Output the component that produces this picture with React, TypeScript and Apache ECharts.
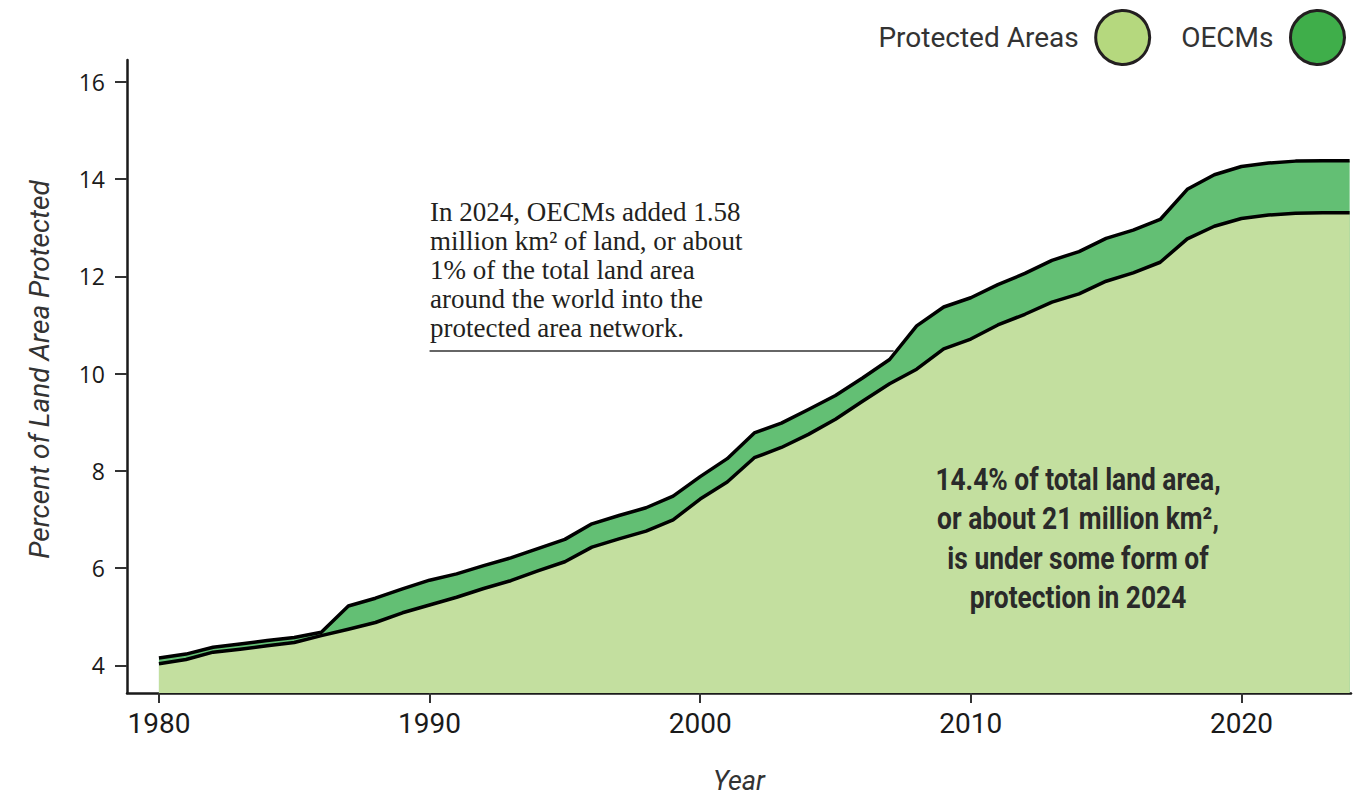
import React, { useEffect, useRef } from "react";
import * as echarts from "echarts";

const years = [
  1980, 1981, 1982, 1983, 1984, 1985, 1986, 1987, 1988, 1989,
  1990, 1991, 1992, 1993, 1994, 1995, 1996, 1997, 1998, 1999,
  2000, 2001, 2002, 2003, 2004, 2005, 2006, 2007, 2008, 2009,
  2010, 2011, 2012, 2013, 2014, 2015, 2016, 2017, 2018, 2019,
  2020, 2021, 2022, 2023, 2024,
];

// Percent of land area covered by Protected Areas
const protectedAreas = [
  4.03, 4.12, 4.27, 4.33, 4.4, 4.47, 4.61, 4.74, 4.88, 5.08,
  5.24, 5.4, 5.58, 5.74, 5.94, 6.13, 6.43, 6.6, 6.76, 6.99,
  7.42, 7.77, 8.27, 8.48, 8.75, 9.06, 9.43, 9.79, 10.09, 10.51,
  10.71, 11.0, 11.22, 11.47, 11.64, 11.9, 12.07, 12.29, 12.77, 13.03,
  13.19, 13.26, 13.3, 13.31, 13.31,
];

// Percent of land area covered by Protected Areas + OECMs (cumulative top edge)
const totalProtected = [
  4.15, 4.23, 4.37, 4.44, 4.51, 4.57, 4.68, 5.22, 5.38, 5.57,
  5.75, 5.88, 6.05, 6.21, 6.4, 6.59, 6.91, 7.08, 7.24, 7.48,
  7.88, 8.25, 8.78, 8.98, 9.26, 9.55, 9.91, 10.29, 10.98, 11.37,
  11.56, 11.83, 12.06, 12.33, 12.51, 12.78, 12.95, 13.17, 13.79, 14.09,
  14.26, 14.33, 14.37, 14.38, 14.38,
];

const xTicks = [1980, 1990, 2000, 2010, 2020];
const yTicks = [4, 6, 8, 10, 12, 14, 16];

const noteLines = [
  "In 2024, OECMs added 1.58",
  "million km² of land, or about",
  "1% of the total land area",
  "around the world into the",
  "protected area network.",
];

const summaryLines = [
  "14.4% of total land area,",
  "or about 21 million km²,",
  "is under some form of",
  "protection in 2024",
];

const SANS = '"Roboto", "Noto Sans", sans-serif';

export default function App() {
  const ref = useRef<HTMLDivElement>(null);

  useEffect(() => {
    document.body.style.margin = "0";
    if (!ref.current) return;
    const chart = echarts.init(ref.current, undefined, { renderer: "svg" });

    const paData = years.map((y, i) => [y, protectedAreas[i]]);
    const totalData = years.map((y, i) => [y, totalProtected[i]]);

    chart.setOption({
      animation: false,
      backgroundColor: "#ffffff",
      grid: { left: 127, right: 20, top: 60, bottom: 102, containLabel: false },
      legend: {
        right: 20,
        top: 4,
        align: "right",
        itemWidth: 54,
        itemHeight: 54,
        itemGap: 30,
        icon: "circle",
        textStyle: {
          fontFamily: SANS,
          fontSize: 28,
          color: "#333333",
          padding: [0, 12, 0, 0],
        },
        data: [
          {
            name: "Protected Areas",
            itemStyle: { color: "#b5d87e", borderColor: "#231f20", borderWidth: 3 },
          },
          {
            name: "OECMs",
            itemStyle: { color: "#3fae4a", borderColor: "#231f20", borderWidth: 3 },
          },
        ],
      },
      xAxis: {
        type: "value",
        min: 1978.82,
        max: 2024.05,
        name: "Year",
        nameLocation: "middle",
        nameGap: 74,
        nameTextStyle: {
          fontFamily: SANS,
          fontStyle: "italic",
          fontSize: 27,
          color: "#333333",
        },
        splitLine: { show: false },
        axisLine: { show: true, lineStyle: { color: "#1a1a1a", width: 2.5 } },
        axisTick: {
          show: true,
          length: 10,
          customValues: xTicks,
          lineStyle: { color: "#333333", width: 2 },
        },
        axisLabel: {
          customValues: xTicks,
          margin: 16,
          fontFamily: SANS,
          fontSize: 28,
          color: "#1a1a1a",
          formatter: (v: number) => String(v),
        },
      },
      yAxis: {
        type: "value",
        min: 3.43,
        max: 16.45,
        name: "Percent of Land Area Protected",
        nameLocation: "middle",
        nameRotate: 90,
        nameGap: 74,
        nameTextStyle: {
          fontFamily: SANS,
          fontStyle: "italic",
          fontSize: 28,
          color: "#333333",
          padding: [0, 0, 0, 14],
        },
        splitLine: { show: false },
        axisLine: { show: true, lineStyle: { color: "#1a1a1a", width: 2.5 } },
        axisTick: {
          show: true,
          length: 12,
          customValues: yTicks,
          lineStyle: { color: "#333333", width: 2 },
        },
        axisLabel: {
          customValues: yTicks,
          margin: 22,
          fontFamily: '"Open Sans", "Noto Sans", sans-serif',
          fontSize: 23,
          color: "#1a1a1a",
        },
      },
      series: [
        {
          name: "Protected Areas",
          type: "line",
          data: paData,
          showSymbol: false,
          symbol: "none",
          z: 3,
          lineStyle: { color: "#000000", width: 3.5, join: "round" },
          itemStyle: { color: "#b5d87e" },
          areaStyle: { color: "#c3df9f", opacity: 1 },
          markLine: {
            silent: true,
            symbol: "none",
            label: { show: false },
            lineStyle: { color: "#333333", width: 1.5, type: "solid" },
            data: [[{ coord: [1990, 10.46] }, { coord: [2007.15, 10.46] }]],
          },
        },
        {
          name: "OECMs",
          type: "line",
          data: totalData,
          showSymbol: false,
          symbol: "none",
          z: 2,
          lineStyle: { color: "#000000", width: 3.5, join: "round" },
          itemStyle: { color: "#3fae4a" },
          areaStyle: { color: "#63bf74", opacity: 1 },
        },
      ],
      graphic: [
        {
          type: "text",
          left: 430,
          top: 197,
          z: 10,
          style: {
            text: noteLines.join("\n"),
            fontFamily: '"Liberation Serif", "DejaVu Serif", serif',
            fontSize: 27,
            lineHeight: 29,
            fill: "#231f20",
          },
        },
        {
          type: "text",
          x: 1078,
          y: 538,
          scaleX: 0.85,
          z: 10,
          style: {
            text: summaryLines.join("\n"),
            align: "center",
            verticalAlign: "middle",
            fontFamily: SANS,
            fontSize: 31,
            fontWeight: "bold",
            lineHeight: 39.5,
            fill: "#2a2a2a",
          },
        },
      ],
    });

    return () => chart.dispose();
  }, []);

  return <div ref={ref} style={{ width: 1371, height: 799 }} />;
}
